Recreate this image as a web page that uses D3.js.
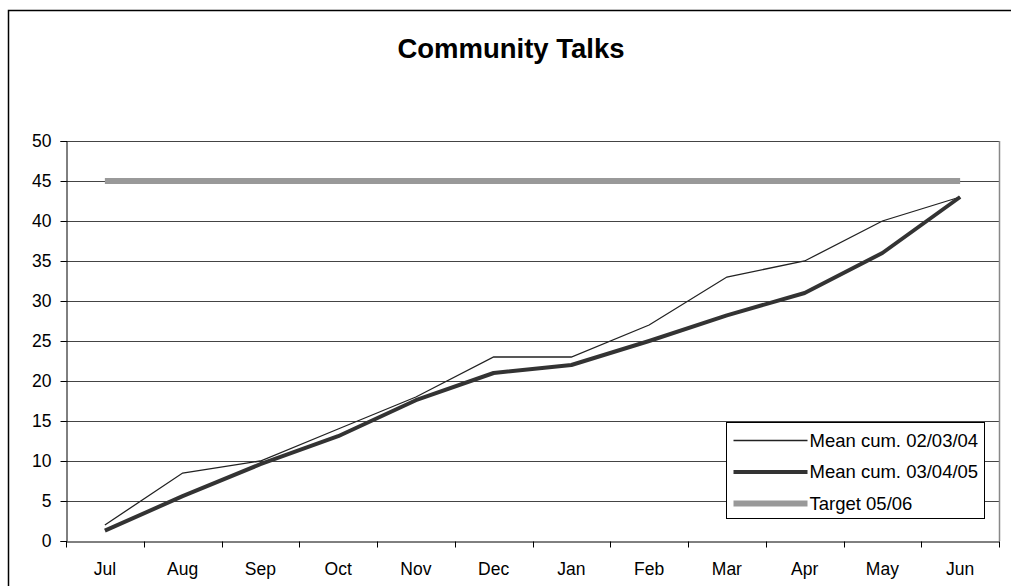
<!DOCTYPE html>
<html>
<head>
<meta charset="utf-8">
<script src="https://cdn.jsdelivr.net/npm/d3@7"></script>
<style>
  body { margin: 0; background: #fff; }
  text { font-family: "Liberation Sans", Arial, sans-serif; fill: #000; }
</style>
</head>
<body>
<svg width="1011" height="586"></svg>
<script>
// chart data
var months = ["Jul", "Aug", "Sep", "Oct", "Nov", "Dec", "Jan", "Feb", "Mar", "Apr", "May", "Jun"];
var mean020304 = [2, 8.5, 10, 14, 18, 23, 23, 27, 33, 35, 40, 43];
var mean030405 = [1.3, 5.6, 9.6, 13.1, 17.6, 21, 22, 25, 28.2, 31, 36, 43];
var target0506 = [45, 45, 45, 45, 45, 45, 45, 45, 45, 45, 45, 45];
var yTicks = [0, 5, 10, 15, 20, 25, 30, 35, 40, 45, 50];

var width = 1011, height = 586;
var margin = {top: 141, right: 12, bottom: 45, left: 66};

var svg = d3.select("svg");

// outer chart border (runs off the right/bottom of the window)
svg.append("rect")
  .attr("x", 8.5).attr("y", 10.5)
  .attr("width", 1020).attr("height", 600)
  .attr("fill", "none").attr("stroke", "#000").attr("stroke-width", 1.5);

var x = d3.scaleBand()
  .domain(months)
  .range([margin.left, width - margin.right]);

var y = d3.scaleLinear()
  .domain([0, 50])
  .range([height - margin.bottom, margin.top]);

// gridlines
svg.append("g")
  .selectAll("line")
  .data(yTicks.slice(1))
  .enter().append("line")
  .attr("x1", margin.left).attr("x2", width - margin.right)
  .attr("y1", function(d) { return Math.round(y(d)) + 0.5; })
  .attr("y2", function(d) { return Math.round(y(d)) + 0.5; })
  .attr("stroke", "#444").attr("stroke-width", 1);

// plot area right edge
svg.append("line")
  .attr("x1", width - margin.right + 0.5).attr("x2", width - margin.right + 0.5)
  .attr("y1", y(50)).attr("y2", y(0))
  .attr("stroke", "#888").attr("stroke-width", 1.5);

var yAxis = d3.axisLeft(y).tickValues(yTicks).tickSize(6).tickPadding(9);
var gy = svg.append("g")
  .attr("transform", "translate(" + (margin.left + 0.5) + ",0)")
  .call(yAxis);
gy.selectAll("text").style("font-size", "17.5px");

var xAxis = d3.axisBottom(x).tickSize(0).tickPadding(21);
var gx = svg.append("g")
  .attr("transform", "translate(0," + (Math.round(y(0)) + 0.5) + ")")
  .call(xAxis);
gx.selectAll("text").style("font-size", "17.5px");
// Excel-style ticks between categories
gx.selectAll("line.sep")
  .data(months.concat(["end"]))
  .enter().append("line")
  .attr("class", "sep")
  .attr("x1", function(d, i) { return Math.round(margin.left + i * x.bandwidth()) + 0.5; })
  .attr("x2", function(d, i) { return Math.round(margin.left + i * x.bandwidth()) + 0.5; })
  .attr("y1", 0).attr("y2", 6)
  .attr("stroke", "#000");

svg.selectAll(".domain").attr("stroke", "#000");
svg.selectAll(".tick line").attr("stroke", "#000");

var line = d3.line()
  .x(function(d, i) { return x(months[i]) + x.bandwidth() / 2; })
  .y(function(d) { return y(d); });

svg.append("path").datum(target0506)
  .attr("d", line)
  .attr("fill", "none").attr("stroke", "#999").attr("stroke-width", 6);

svg.append("path").datum(mean020304)
  .attr("d", line)
  .attr("fill", "none").attr("stroke", "#222").attr("stroke-width", 1.3);

svg.append("path").datum(mean030405)
  .attr("d", line)
  .attr("fill", "none").attr("stroke", "#333").attr("stroke-width", 4)
  .attr("stroke-linejoin", "round");

// title
svg.append("text")
  .attr("x", 511).attr("y", 58)
  .attr("text-anchor", "middle")
  .style("font-size", "27.5px").style("font-weight", "bold")
  .text("Community Talks");

// legend
var legendItems = [
  {name: "Mean cum. 02/03/04", color: "#222", w: 1.3},
  {name: "Mean cum. 03/04/05", color: "#333", w: 4},
  {name: "Target 05/06", color: "#999", w: 6}
];
var legend = svg.append("g").attr("transform", "translate(726.5,422.5)");
legend.append("rect")
  .attr("width", 258).attr("height", 96)
  .attr("fill", "#fff").attr("stroke", "#000").attr("stroke-width", 1);
var li = legend.selectAll("g.item").data(legendItems).enter()
  .append("g").attr("class", "item")
  .attr("transform", function(d, i) { return "translate(0," + (18 + i * 31.5) + ")"; });
li.append("line")
  .attr("x1", 7).attr("x2", 81)
  .attr("stroke", function(d) { return d.color; })
  .attr("stroke-width", function(d) { return d.w; });
li.append("text")
  .attr("x", 83).attr("dy", "0.35em")
  .style("font-size", "18.5px")
  .text(function(d) { return d.name; });
</script>
</body>
</html>
